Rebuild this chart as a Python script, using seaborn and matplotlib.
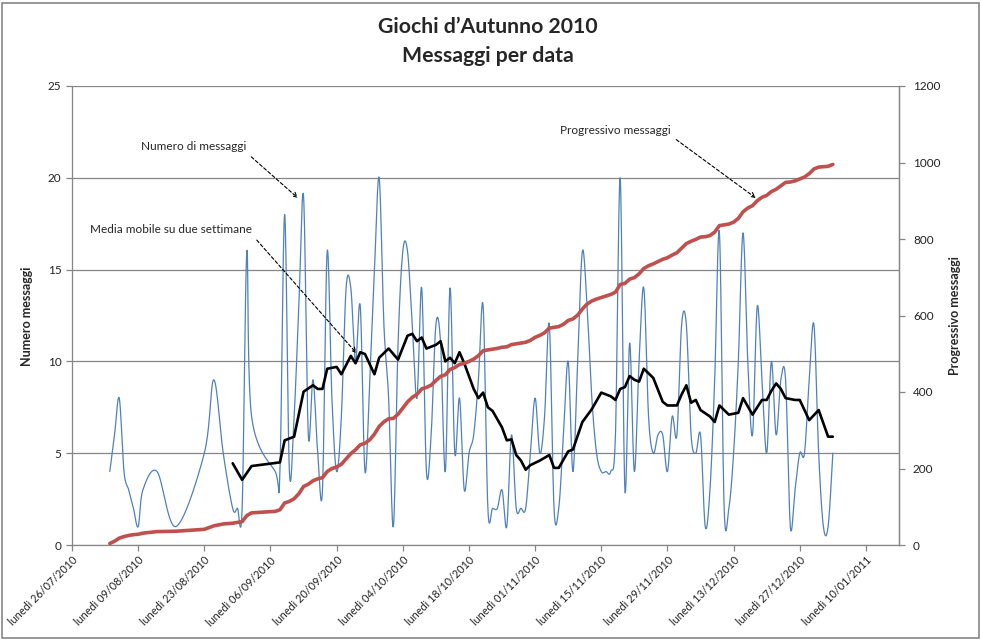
import numpy as np
import pandas as pd
import matplotlib
matplotlib.use("Agg")
import matplotlib.pyplot as plt
import matplotlib.dates as mdates
from matplotlib.patches import Rectangle
import seaborn as sns

# ---------------- data ----------------
START = pd.Timestamp("2010-07-26")          # first x tick (lunedì)

# irregular early dates (days after START) and messages per day
early_days = [8, 9, 10, 11, 12, 13, 14, 15, 18, 22, 28, 30, 32, 34, 35, 36, 37, 38]
early_msgs = [4, 6, 8, 4, 3, 2, 1, 3, 4, 1, 5, 9, 5, 2, 2, 2, 16, 7]

# daily data from day 43 (07/09/2010) to day 161 (03/01/2011)
daily_first = 43
daily_msgs = [4, 4, 18, 4, 7, 13, 19, 6, 9, 5, 3, 16, 8, 4, 7, 14, 14, 10, 13, 4,
              9, 15, 20, 12, 8, 1, 11, 16, 16, 12, 8, 14, 4, 6, 12, 11, 4, 14, 5, 8,
              3, 5, 6, 9, 13, 2, 2, 2, 3, 1, 6, 2, 2, 2, 5, 8, 5, 7, 12, 2,
              2, 6, 10, 4, 10, 16, 13, 8, 5, 4, 4, 4, 6, 20, 3, 11, 4, 10, 14, 7,
              5, 6, 6, 4, 7, 6, 12, 12, 6, 5, 6, 1, 3, 9, 17, 2, 2, 5, 10, 17,
              10, 6, 13, 9, 5, 10, 6, 9, 9, 1, 3, 5, 5, 9, 12, 5, 1, 1, 5]

# two-week moving average (as drawn in the reference)
mm_days = [34, 36, 38, 44, 45, 47, 49, 51, 52, 53, 54, 56, 57, 59, 60, 61, 62, 64, 65, 67,
           68, 69, 71, 72, 73, 74, 75, 77, 78, 79, 80, 81, 82, 83, 85, 86, 87, 88, 89, 91,
           92, 93, 94, 95, 96, 97, 99, 101, 102, 103, 105, 106, 108, 110, 112, 114, 115, 116, 117, 118,
           119, 120, 121, 123, 125, 126, 128, 129, 130, 131, 132, 133, 135, 136, 137, 138, 139, 141, 142, 144,
           146, 147, 148, 149, 150, 151, 153, 154, 156, 158, 160, 161]
mm_vals = [4.45, 3.55, 4.3, 4.5, 5.7, 5.9, 8.35, 8.7, 8.5, 8.5, 9.6, 9.7, 9.3, 10.3, 9.9, 10.5, 10.4, 9.3, 10.2, 10.7,
           10.4, 10.1, 11.4, 11.5, 11.1, 11.3, 10.7, 10.9, 11.1, 10.0, 10.2, 9.9, 10.5, 9.9, 8.5, 8.0, 8.3, 7.5, 7.3, 6.4,
           5.7, 5.75, 4.9, 4.6, 4.1, 4.35, 4.6, 4.9, 4.2, 4.2, 5.1, 5.2, 6.7, 7.4, 8.3, 8.1, 7.9, 8.5, 8.6, 9.2,
           9.0, 8.9, 9.6, 9.1, 7.8, 7.6, 7.6, 8.2, 8.7, 7.75, 7.9, 7.35, 7.0, 6.7, 7.6, 7.35, 7.1, 7.2, 8.0, 7.1,
           7.9, 7.9, 8.4, 8.8, 8.5, 8.0, 7.9, 7.9, 6.8, 7.35, 5.9, 5.9]

tick_days = [0, 14, 28, 42, 56, 70, 84, 98, 112, 126, 140, 154, 168]

title_lines = ["Giochi d\u2019Autunno 2010", "Messaggi per data"]
left_label = "Numero messaggi"
right_label = "Progressivo messaggi"

# ---------------- build tables ----------------
msg_days = early_days + list(range(daily_first, daily_first + len(daily_msgs)))
msgs = early_msgs + daily_msgs
assert len(msg_days) == len(msgs)
x0 = mdates.date2num(START)
df = pd.DataFrame({"x": x0 + np.array(msg_days, float), "msgs": msgs})
df["cum"] = df["msgs"].cumsum()
mm = pd.DataFrame({"x": x0 + np.array(mm_days, float), "mm": mm_vals})


def excel_smooth(xs, ys, n=14):
    P = np.column_stack([xs, ys]).astype(float)
    E = np.vstack([P[0], P, P[-1]])
    t = np.linspace(0, 1, n, endpoint=False)[:, None]
    segs = []
    for i in range(len(P) - 1):
        p0, p1, p2, p3 = E[i], E[i + 1], E[i + 2], E[i + 3]
        c1 = p1 + (p2 - p0) / 6.0
        c2 = p2 - (p3 - p1) / 6.0
        segs.append((1 - t) ** 3 * p1 + 3 * (1 - t) ** 2 * t * c1
                    + 3 * (1 - t) * t ** 2 * c2 + t ** 3 * p2)
    segs.append(P[-1][None])
    return np.vstack(segs)


sm = excel_smooth(df["x"].values, df["msgs"].values)
smooth_df = pd.DataFrame({"x": sm[:, 0], "y": sm[:, 1]})

# ---------------- style ----------------
sns.set_style("white")
plt.rcParams["font.family"] = ["Lato", "DejaVu Sans"]
GRAY = "#868686"

fig = plt.figure(figsize=(9.81, 6.4), dpi=100)
ax = fig.add_axes([72 / 981, 1 - 545 / 640, (899 - 72) / 981, (545 - 86) / 640])
ax.set_facecolor("none")

sns.lineplot(data=smooth_df, x="x", y="y", ax=ax, sort=False, estimator=None,
             color="#4F81BD", linewidth=0.9)
sns.lineplot(data=mm, x="x", y="mm", ax=ax, sort=False, estimator=None,
             color="black", linewidth=1.9)

ax2 = ax.twinx()
sns.lineplot(data=df, x="x", y="cum", ax=ax2, sort=False, estimator=None,
             color="#C0504D", linewidth=2.6)

ax.set_xlim(x0, x0 + 175)
ax.set_ylim(0, 25)
ax2.set_ylim(0, 1200)
ax.set_yticks(range(0, 26, 5))
ax2.set_yticks(range(0, 1201, 200))
ax.grid(axis="y", color=GRAY, linewidth=0.9)
ax.grid(axis="x", visible=False)
ax.set_axisbelow(True)

tick_x = [x0 + d for d in tick_days]
tick_labels = ["luned\u00ec " + (START + pd.Timedelta(days=d)).strftime("%d/%m/%Y") for d in tick_days]
ax.set_xticks(tick_x)
ax.set_xticklabels(tick_labels, rotation=45, ha="right", va="top", rotation_mode="anchor")

for a in (ax, ax2):
    a.set_xlabel("")
    a.set_ylabel("")
    for s in a.spines.values():
        s.set_color(GRAY)
        s.set_linewidth(0.9)
    a.spines["top"].set_visible(False)
ax2.spines["left"].set_visible(False)
ax2.spines["bottom"].set_visible(False)

ax.tick_params(axis="y", direction="out", length=4, width=0.9, color=GRAY,
               labelsize=8.5, pad=3.5, labelcolor="#222222", left=True)
ax.tick_params(axis="x", direction="out", length=4, width=0.9, color=GRAY,
               labelsize=7.8, pad=3, labelcolor="#222222", bottom=True)
ax2.tick_params(axis="y", direction="out", length=4, width=0.9, color=GRAY,
                labelsize=8.5, pad=6, labelcolor="#222222", right=True)

# annotations
arrow = dict(arrowstyle="->", linestyle=(0, (3, 2)), lw=0.8, color="black",
             shrinkA=2, shrinkB=0, relpos=(1.0, 0.0))
ax.annotate("Numero di messaggi", xy=(x0 + 47.8, 18.9), xytext=(x0 + 36.8, 21.4),
            ha="right", va="bottom", fontsize=8.5, arrowprops=arrow)
ax.annotate("Media mobile su due settimane", xy=(x0 + 60.2, 10.45), xytext=(x0 + 38.1, 16.9),
            ha="right", va="bottom", fontsize=8.5, arrowprops=arrow)
ax.annotate("Progressivo messaggi", xy=(x0 + 144.7, 18.9), xytext=(x0 + 126.7, 22.3),
            ha="right", va="bottom", fontsize=8.5, arrowprops=arrow)

# titles and axis titles
fig.text(488 / 981, 1 - 27 / 640, title_lines[0], ha="center", va="center",
         fontsize=15.3, fontweight="bold")
fig.text(488 / 981, 1 - 56 / 640, title_lines[1], ha="center", va="center",
         fontsize=15.3, fontweight="bold")
fig.text(27 / 981, 1 - 316 / 640, left_label, rotation=90, ha="center", va="center",
         fontsize=9, fontweight="bold")
fig.text(955 / 981, 1 - 316 / 640, right_label, rotation=90, ha="center", va="center",
         fontsize=9, fontweight="bold")

fig.add_artist(Rectangle((1.5 / 981, 2.5 / 640), 977 / 981, 635 / 640, transform=fig.transFigure,
                         fill=False, edgecolor=GRAY, linewidth=1.2))

fig.savefig("out.png", dpi=100)
